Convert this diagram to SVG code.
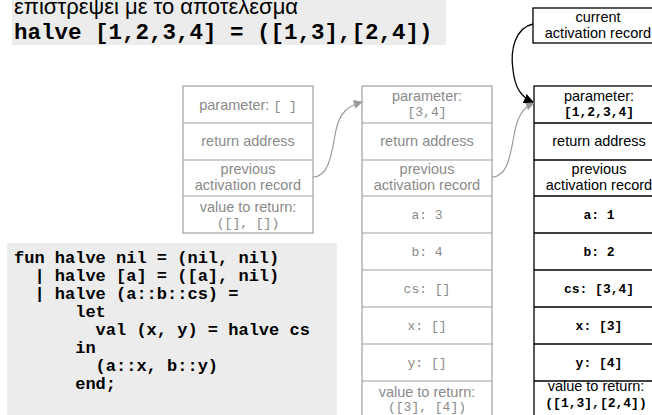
<svg xmlns="http://www.w3.org/2000/svg" width="652" height="415" viewBox="0 0 652 415">
  <style>
    .sans { font-family: "Liberation Sans", Arial, sans-serif; font-size: 14.5px; text-anchor: middle; }
    .mono { font-family: "Liberation Mono", "Courier New", monospace; font-size: 13px; text-anchor: middle; }
    .old rect, .old line { stroke: #a0a0a0; stroke-width: 1.2; fill: none; }
    .old text { fill: #8a8a8a; }
    .cur rect, .cur line { stroke: #000; stroke-width: 1.3; fill: none; }
    .cur text { fill: #000; }
    .cur .mono { font-weight: bold; }
    .code { font-family: "Liberation Mono", "Courier New", monospace; font-size: 17px; font-weight: bold; fill: #000; }
    .shade { fill: #ececec; }
    .link-old { fill: none; stroke: #999; stroke-width: 1.2; }
    .link-cur { fill: none; stroke: #000; stroke-width: 1.3; }
  </style>
  <defs>
    <marker id="head-gray" viewBox="0 0 10 10" refX="9" refY="5" markerWidth="10" markerHeight="9" markerUnits="userSpaceOnUse" orient="auto">
      <path d="M0,0 L10,5 L0,10 Z" fill="#999"/>
    </marker>
    <marker id="head-black" viewBox="0 0 10 10" refX="9" refY="5" markerWidth="10" markerHeight="10" markerUnits="userSpaceOnUse" orient="auto">
      <path d="M0,0 L10,5 L0,10 Z" fill="#000"/>
    </marker>
  </defs>

  <!-- caption at the top -->
  <g id="caption">
    <rect class="shade" x="12" y="-5" width="434" height="50"/>
    <text x="14" y="14" font-family="'Liberation Sans', Arial, sans-serif" font-size="22" fill="#000">επιστρεψει με το αποτελεσμα</text>
    <text x="14" y="39" font-family="'Liberation Mono', 'Courier New', monospace" font-size="22.5" font-weight="bold" fill="#000">halve [1,2,3,4] = ([1,3],[2,4])</text>
  </g>

  <!-- source listing -->
  <g id="source">
    <rect class="shade" x="7" y="243" width="330" height="175"/>
    <text class="code" x="14" y="263" xml:space="preserve">fun halve nil = (nil, nil)</text>
    <text class="code" x="14" y="281" xml:space="preserve">  | halve [a] = ([a], nil)</text>
    <text class="code" x="14" y="299" xml:space="preserve">  | halve (a::b::cs) =</text>
    <text class="code" x="14" y="317" xml:space="preserve">      let</text>
    <text class="code" x="14" y="335" xml:space="preserve">        val (x, y) = halve cs</text>
    <text class="code" x="14" y="353" xml:space="preserve">      in</text>
    <text class="code" x="14" y="371" xml:space="preserve">        (a::x, b::y)</text>
    <text class="code" x="14" y="389" xml:space="preserve">      end;</text>
  </g>

  <!-- activation record for halve [] -->
  <g id="record-empty" class="old">
    <rect x="183" y="86" width="130" height="147"/>
    <line x1="183" y1="123" x2="313" y2="123"/>
    <line x1="183" y1="160" x2="313" y2="160"/>
    <line x1="183" y1="196" x2="313" y2="196"/>
    <text class="sans" x="248" y="110">parameter: <tspan class="mono">[ ]</tspan></text>
    <text class="sans" x="248" y="146">return address</text>
    <text class="sans" x="248" y="174">previous</text>
    <text class="sans" x="248" y="190">activation record</text>
    <text class="sans" x="248" y="212">value to return:</text>
    <text class="mono" x="248" y="227">([], [])</text>
  </g>

  <!-- activation record for halve [3,4] -->
  <g id="record-34" class="old">
    <rect x="362" y="86" width="130" height="340"/>
    <line x1="362" y1="123" x2="492" y2="123"/>
    <line x1="362" y1="160" x2="492" y2="160"/>
    <line x1="362" y1="196" x2="492" y2="196"/>
    <line x1="362" y1="233" x2="492" y2="233"/>
    <line x1="362" y1="270" x2="492" y2="270"/>
    <line x1="362" y1="307" x2="492" y2="307"/>
    <line x1="362" y1="344" x2="492" y2="344"/>
    <line x1="362" y1="381" x2="492" y2="381"/>
    <text class="sans" x="427" y="101">parameter:</text>
    <text class="mono" x="427" y="116">[3,4]</text>
    <text class="sans" x="427" y="146">return address</text>
    <text class="sans" x="427" y="174">previous</text>
    <text class="sans" x="427" y="190">activation record</text>
    <text class="mono" x="427" y="219">a: 3</text>
    <text class="mono" x="427" y="256">b: 4</text>
    <text class="mono" x="427" y="293">cs: []</text>
    <text class="mono" x="427" y="330">x: []</text>
    <text class="mono" x="427" y="367">y: []</text>
    <text class="sans" x="427" y="397">value to return:</text>
    <text class="mono" x="427" y="411">([3], [4])</text>
  </g>

  <!-- activation record for halve [1,2,3,4] -->
  <g id="record-1234" class="cur">
    <rect x="534" y="86" width="130" height="340"/>
    <line x1="534" y1="123" x2="664" y2="123"/>
    <line x1="534" y1="160" x2="664" y2="160"/>
    <line x1="534" y1="196" x2="664" y2="196"/>
    <line x1="534" y1="233" x2="664" y2="233"/>
    <line x1="534" y1="270" x2="664" y2="270"/>
    <line x1="534" y1="307" x2="664" y2="307"/>
    <line x1="534" y1="344" x2="664" y2="344"/>
    <line x1="534" y1="381" x2="664" y2="381"/>
    <text class="sans" x="599" y="101">parameter:</text>
    <text class="mono" x="599" y="116">[1,2,3,4]</text>
    <text class="sans" x="599" y="146">return address</text>
    <text class="sans" x="599" y="174">previous</text>
    <text class="sans" x="599" y="190">activation record</text>
    <text class="mono" x="599" y="219">a: 1</text>
    <text class="mono" x="599" y="256">b: 2</text>
    <text class="mono" x="599" y="293">cs: [3,4]</text>
    <text class="mono" x="599" y="330">x: [3]</text>
    <text class="mono" x="599" y="367">y: [4]</text>
    <text class="sans" x="596" y="391" font-size="16">value to return:</text>
    <text class="mono" x="596" y="407" font-size="14.5">([1,3],[2,4])</text>
  </g>

  <!-- pointer to the current record -->
  <g id="current-pointer" class="cur">
    <rect x="533" y="8" width="130" height="35"/>
    <text class="sans" x="598" y="22">current</text>
    <text class="sans" x="598" y="38">activation record</text>
  </g>

  <!-- links -->
  <g id="links">
    <path class="link-old" d="M313,177 C330,177 332,150 336,130 C340,112 348,106 362,102" marker-end="url(#head-gray)"/>
    <path class="link-old" d="M492,177 C509,177 511,150 515,130 C519,112 526,106 534,103" marker-end="url(#head-gray)"/>
    <path class="link-cur" d="M533,24 C515,28 510,50 513,70 C515,88 521,97 533,102" marker-end="url(#head-black)"/>
  </g>
</svg>
